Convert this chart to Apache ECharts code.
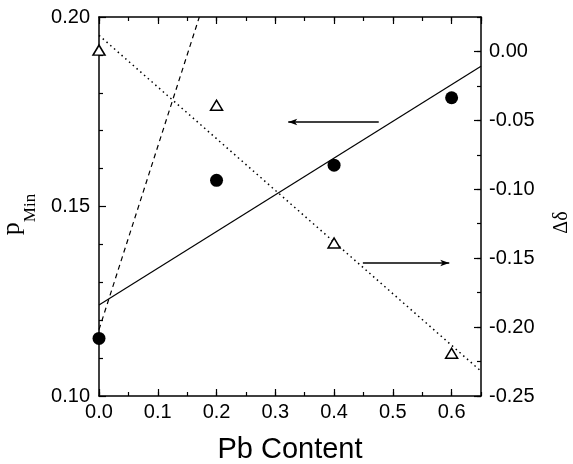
<!DOCTYPE html>
<html>
<head>
<meta charset="utf-8">
<script src="https://cdn.jsdelivr.net/npm/echarts@6/dist/echarts.min.js"></script>
<style>html,body{margin:0;padding:0;background:#fff}#c{width:573px;height:464px}</style>
</head>
<body>
<div id="c"></div>
<script>
// ---- data ----
const pbContent = [0, 0.2, 0.4, 0.6];
const pMin = [0.1152, 0.1569, 0.1609, 0.1787];          // filled circles, left axis
const deltaDelta = [0.001, -0.039, -0.139, -0.219];     // open triangles, right axis
const solidFitX = [0, 0.65];  const solidFitY = [0.124, 0.187];    // left axis
const dashedX = [0, 0.1707];  const dashedY = [0.1175, 0.20];      // left axis
const dottedX = [0, 0.65];    const dottedY = [0.0117, -0.232];    // right axis
const arrowLeftX = [0.476, 0.322];  const arrowLeftY = [0.1723, 0.1723];
const arrowRightX = [0.449, 0.596]; const arrowRightY = [0.1351, 0.1351];
const xTickLabels = ['0.0','0.1','0.2','0.3','0.4','0.5','0.6'];
const leftTickLabels = ['0.10','0.15','0.20'];
const rightTickLabels = ['-0.25','-0.20','-0.15','-0.10','-0.05','0.00'];

const pairs = (xs, ys) => xs.map((x, i) => [x, ys[i]]);
const FONT = 'Liberation Sans, Arial, sans-serif';
const black = '#000';
const lineStyle = { color: black, width: 1.5 };

function xAx(pos, major, labels) {
  return {
    type: 'value', min: 0, max: 0.65, interval: major ? 0.1 : 0.05, position: pos,
    axisLine: { show: major, onZero: false, lineStyle },
    axisTick: { show: true, inside: true, length: major ? 7 : 4, lineStyle: { color: black, width: 1.2 } },
    axisLabel: labels ? {
      show: true, margin: 6, color: black, fontSize: 20, fontFamily: FONT, showMaxLabel: false,
      formatter: v => xTickLabels[Math.round(v * 10)] || ''
    } : { show: false },
    splitLine: { show: false }
  };
}
function rightAx(major) {
  return {
    type: 'value', min: -0.25, max: 0.025, interval: major ? 0.05 : 0.025, position: 'right',
    axisLine: { show: major, onZero: false, lineStyle },
    axisTick: { show: true, inside: true, length: major ? 7 : 4, lineStyle: { color: black, width: 1.2 } },
    axisLabel: major ? {
      show: true, margin: 8, color: black, fontSize: 20, fontFamily: FONT, showMaxLabel: false,
      formatter: v => rightTickLabels[Math.round((v + 0.25) / 0.05)] || ''
    } : { show: false },
    splitLine: { show: false },
    name: major ? 'Δδ' : '', nameLocation: 'middle', nameGap: 71,
    nameTextStyle: { fontFamily: 'Liberation Serif, serif', fontSize: 20, color: black, padding: [0, 32, 0, 0] }
  };
}

const chart = echarts.init(document.getElementById('c'), null, { renderer: 'canvas' });
chart.setOption({
  animation: false,
  backgroundColor: '#fff',
  grid: { left: 99, top: 17, right: 92, bottom: 68, containLabel: false, outerBoundsMode: 'none' },
  xAxis: [
    Object.assign(xAx('bottom', true, true), {
      name: 'Pb Content', nameLocation: 'middle', nameGap: 39,
      nameTextStyle: { fontFamily: FONT, fontSize: 29, color: black }
    }),
    xAx('bottom', false, false),
    xAx('top', true, false),
    xAx('top', false, false)
  ],
  yAxis: [
    {
      type: 'value', min: 0.10, max: 0.20, interval: 0.05, position: 'left',
      axisLine: { show: true, onZero: false, lineStyle },
      axisTick: { show: true, inside: true, length: 7, lineStyle: { color: black, width: 1.2 } },
      minorTick: { show: true, splitNumber: 5, length: 4, lineStyle: { color: black, width: 1.2 } },
      axisLabel: { margin: 9, color: black, fontSize: 20, fontFamily: FONT,
        formatter: v => leftTickLabels[Math.round((v - 0.10) / 0.05)] || '' },
      splitLine: { show: false },
      name: '{p|p}{s|Min}', nameLocation: 'middle', nameGap: 60,
      nameTextStyle: {
        color: black, padding: [0, 16, 0, 0],
        rich: {
          p: { fontFamily: 'Liberation Serif, serif', fontSize: 26, color: black, verticalAlign: 'top', lineHeight: 26 },
          s: { fontFamily: 'Liberation Serif, serif', fontSize: 17, color: black, verticalAlign: 'bottom', lineHeight: 40 }
        }
      }
    },
    rightAx(true),
    rightAx(false)
  ],
  series: [
    { type: 'line', xAxisIndex: 0, yAxisIndex: 0, data: pairs(solidFitX, solidFitY), symbol: 'none',
      lineStyle: { color: black, width: 1.2 }, z: 3 },
    { type: 'line', xAxisIndex: 0, yAxisIndex: 0, data: pairs(dashedX, dashedY), symbol: 'none',
      lineStyle: { color: black, width: 1.2, type: [5, 4] }, z: 3 },
    { type: 'line', xAxisIndex: 0, yAxisIndex: 1, data: pairs(dottedX, dottedY), symbol: 'none',
      lineStyle: { color: black, width: 1.5, type: [1.5, 3.5] }, z: 3 },
    { type: 'line', xAxisIndex: 0, yAxisIndex: 0, z: 3,
      data: pairs(arrowLeftX, arrowLeftY).map((p, i) => i === 0 ? { value: p, symbol: 'none' } : { value: p, symbol: 'arrow', symbolRotate: 90 }),
      symbolSize: [5, 9], showAllSymbol: true, itemStyle: { color: black }, lineStyle: { color: black, width: 1.5 } },
    { type: 'line', xAxisIndex: 0, yAxisIndex: 0, z: 3,
      data: pairs(arrowRightX, arrowRightY).map((p, i) => i === 0 ? { value: p, symbol: 'none' } : { value: p, symbol: 'arrow', symbolRotate: -90 }),
      symbolSize: [5, 9], showAllSymbol: true, itemStyle: { color: black }, lineStyle: { color: black, width: 1.5 } },
    { type: 'scatter', xAxisIndex: 0, yAxisIndex: 0, data: pairs(pbContent, pMin), symbol: 'circle', symbolSize: 13,
      clip: true, itemStyle: { color: black, opacity: 1 }, z: 4 },
    { type: 'scatter', xAxisIndex: 0, yAxisIndex: 1, data: pairs(pbContent, deltaDelta), symbol: 'triangle', symbolSize: [12, 10],
      clip: false, itemStyle: { color: '#fff', borderColor: black, borderWidth: 1.5, opacity: 1 }, z: 4 }
  ]
});
</script>
</body>
</html>
